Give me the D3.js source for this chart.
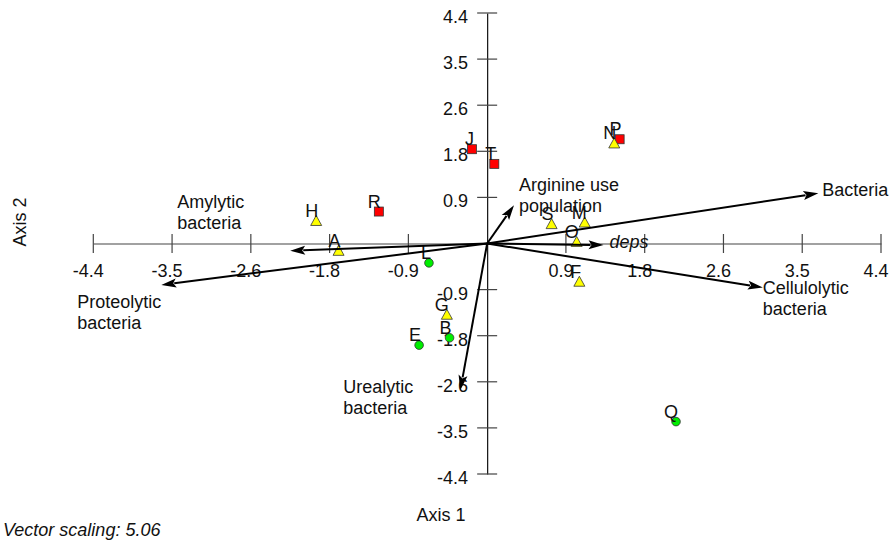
<!DOCTYPE html>
<html>
<head>
<meta charset="utf-8">
<script src="https://cdn.jsdelivr.net/npm/d3@7"></script>
<style>
  html, body { margin: 0; padding: 0; background: #fff; }
  svg { display: block; font-family: "Liberation Sans", Arial, sans-serif; }
</style>
</head>
<body>
<svg id="chart" width="890" height="540"></svg>
<script>
// Sample scores on the two ordination axes
const sampleNames = ["J", "T", "R", "P", "N", "H", "A", "S", "M", "O", "F", "G", "L", "B", "E", "Q"];
const sampleAxis1 = [-0.17, 0.08, -1.21, 1.48, 1.42, -1.91, -1.66, 0.72, 1.09, 1.00, 1.03, -0.45, -0.65, -0.42, -0.76, 2.11];
const sampleAxis2 = [1.80, 1.52, 0.61, 1.99, 1.91, 0.43, -0.14, 0.37, 0.40, 0.03, -0.73, -1.36, -0.37, -1.80, -1.94, -3.40];
const sampleGroup = ["square", "square", "square", "square", "triangle", "triangle", "triangle", "triangle", "triangle", "triangle", "triangle", "triangle", "circle", "circle", "circle", "circle"];

// Variable vectors (already multiplied by the vector scaling)
const vectorNames = [["Bacteria"], ["Cellulolytic", "bacteria"], ["Proteolytic", "bacteria"], ["Amylytic", "bacteria"], ["deps"], ["Arginine use", "population"], ["Urealytic", "bacteria"]];
const vectorAxis1 = [3.70, 3.08, -3.64, -2.20, 1.30, 0.30, -0.30];
const vectorAxis2 = [0.96, -0.84, -0.79, -0.14, -0.03, 0.73, -2.80];

// Axis ticks
const tickValues = [-4.4, -3.52, -2.64, -1.76, -0.88, 0.88, 1.76, 2.64, 3.52, 4.4];
const tickLabels = ["-4.4", "-3.5", "-2.6", "-1.8", "-0.9", "0.9", "1.8", "2.6", "3.5", "4.4"];

const vectorScaling = "5.06";

// Label placement for the vector names: offset of first line from the arrow tip (px)
const vectorLabelOffset = [[4, -3], [0, 0], [-84, 17], [-113, -49], [6, -3], [5, -20], [-117, -3]];
const italicVector = [false, false, false, false, true, false, false];

const fontSize = 18;
const lineGap = 21;

const svg = d3.select("#chart");
const x = d3.scaleLinear().domain([-4.4, 4.4]).range([93.3, 881]);
const y = d3.scaleLinear().domain([-4.4, 4.4]).range([474, 13]);
const x0 = x(0), y0 = y(0);

// Axes drawn through the origin
const xAxis = d3.axisBottom(x).tickValues(tickValues).tickSize(0).tickFormat("");
const yAxis = d3.axisLeft(y).tickValues(tickValues).tickSize(0).tickFormat("");
const gx = svg.append("g").attr("transform", `translate(0,${y0})`).call(xAxis);
const gy = svg.append("g").attr("transform", `translate(${x0},0)`).call(yAxis);
gx.select(".domain").attr("stroke", "#444").attr("stroke-width", 1.2);
gy.select(".domain").attr("stroke", "#111").attr("stroke-width", 1.2);

// Tick marks crossing the axes
svg.append("g").selectAll("line").data(tickValues).join("line")
  .attr("x1", d => x(d)).attr("x2", d => x(d))
  .attr("y1", y0 - 9.5).attr("y2", y0 + 9.5)
  .attr("stroke", "#444").attr("stroke-width", 1.2);
svg.append("g").selectAll("line").data(tickValues).join("line")
  .attr("y1", d => y(d)).attr("y2", d => y(d))
  .attr("x1", x0 - 10).attr("x2", x0 + 10)
  .attr("stroke", "#444").attr("stroke-width", 1.2);

// Tick labels
svg.append("g").selectAll("text").data(tickValues).join("text")
  .attr("x", d => x(d) - 5).attr("y", y0 + 33)
  .attr("text-anchor", "middle").attr("font-size", fontSize).attr("fill", "#111")
  .text((d, i) => tickLabels[i]);
svg.append("g").selectAll("text").data(tickValues).join("text")
  .attr("x", x0 - 19).attr("y", d => y(d) + 10)
  .attr("text-anchor", "end").attr("font-size", fontSize).attr("fill", "#111")
  .text((d, i) => tickLabels[i]);

// Axis titles
svg.append("text").attr("x", 441).attr("y", 521)
  .attr("text-anchor", "middle").attr("font-size", fontSize).attr("fill", "#111").text("Axis 1");
svg.append("text").attr("transform", "translate(26,222) rotate(-90)")
  .attr("text-anchor", "middle").attr("font-size", fontSize).attr("fill", "#111").text("Axis 2");
svg.append("text").attr("x", 3).attr("y", 536)
  .attr("font-size", fontSize).attr("font-style", "italic").attr("fill", "#111")
  .text("Vector scaling: " + vectorScaling);

// Sample markers
const samples = sampleNames.map((n, i) => ({ name: n, a1: sampleAxis1[i], a2: sampleAxis2[i], g: sampleGroup[i] }));
const markers = svg.append("g");
samples.forEach(s => {
  const cx = x(s.a1), cy = y(s.a2);
  if (s.g === "square") {
    markers.append("rect").attr("x", cx - 4.5).attr("y", cy - 4.5).attr("width", 9).attr("height", 9)
      .attr("fill", "#ff0000").attr("stroke", "#333").attr("stroke-width", 0.8);
  } else if (s.g === "triangle") {
    markers.append("path")
      .attr("d", `M${cx},${cy - 5.5}L${cx + 5.5},${cy + 4.5}L${cx - 5.5},${cy + 4.5}Z`)
      .attr("fill", "#ffff00").attr("stroke", "#333").attr("stroke-width", 0.8);
  } else {
    markers.append("circle").attr("cx", cx).attr("cy", cy).attr("r", 4.3)
      .attr("fill", "#00ee00").attr("stroke", "#333").attr("stroke-width", 0.8);
  }
});

// Sample labels above-left of each marker
svg.append("g").selectAll("text").data(samples).join("text")
  .attr("x", d => x(d.a1) + 2).attr("y", d => y(d.a2) - 4)
  .attr("text-anchor", "end").attr("font-size", fontSize).attr("fill", "#111")
  .text(d => d.name);

// Vectors with arrowheads
const vectors = vectorNames.map((n, i) => ({ lines: n, a1: vectorAxis1[i], a2: vectorAxis2[i], off: vectorLabelOffset[i], it: italicVector[i] }));
const vg = svg.append("g");
vectors.forEach(v => {
  const tx = x(v.a1), ty = y(v.a2);
  const dx = tx - x0, dy = ty - y0;
  const len = Math.hypot(dx, dy);
  const ux = dx / len, uy = dy / len;
  const headLen = 15, headW = 4.5;
  const bx = tx - ux * headLen, by = ty - uy * headLen;
  vg.append("line").attr("x1", x0).attr("y1", y0).attr("x2", bx + ux * 2).attr("y2", by + uy * 2)
    .attr("stroke", "#000").attr("stroke-width", 2);
  vg.append("path")
    .attr("d", `M${tx},${ty}L${bx - uy * headW},${by + ux * headW}L${bx + ux * 3},${by + uy * 3}L${bx + uy * headW},${by - ux * headW}Z`)
    .attr("fill", "#000");
  const t = vg.append("text").attr("font-size", fontSize).attr("fill", "#111")
    .attr("font-style", v.it ? "italic" : "normal");
  v.lines.forEach((ln, k) => {
    t.append("tspan").attr("x", tx + v.off[0]).attr("y", ty + v.off[1] + 6 + k * lineGap).text(ln);
  });
});
</script>
</body>
</html>
